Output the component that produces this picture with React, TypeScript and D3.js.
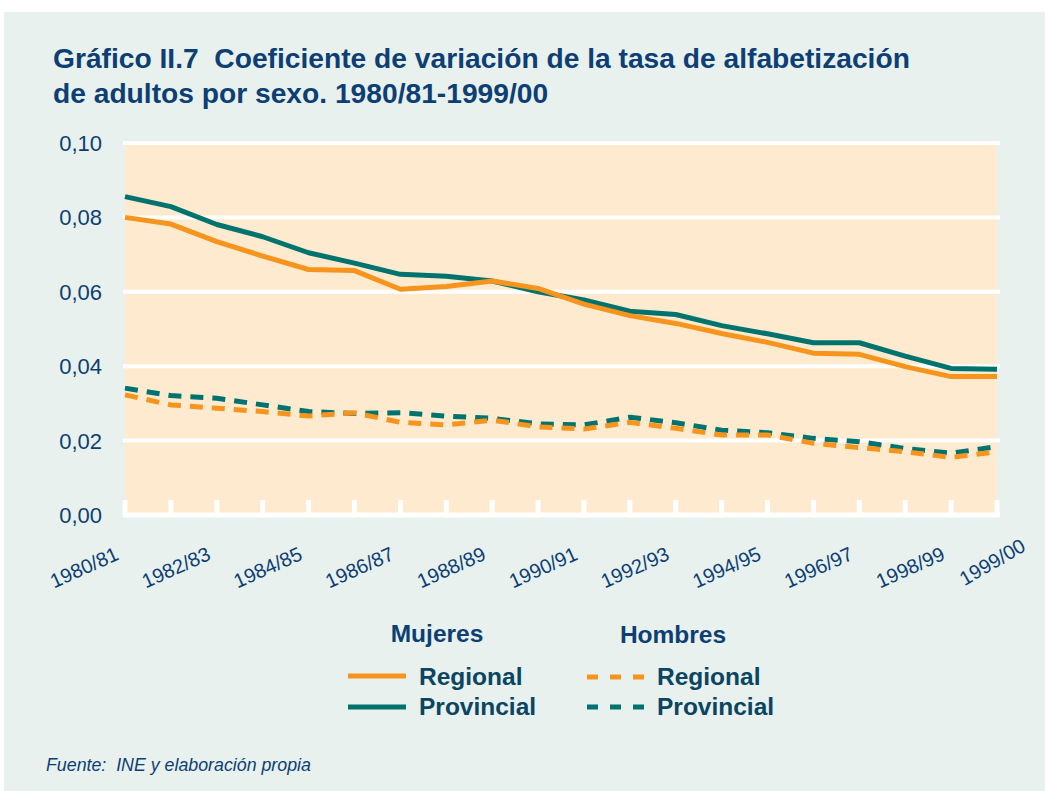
import React from "react";
import * as d3 from "d3";

const categories = [
  "1980/81","1981/82","1982/83","1983/84","1984/85","1985/86","1986/87","1987/88","1988/89","1989/90",
  "1990/91","1991/92","1992/93","1993/94","1994/95","1995/96","1996/97","1997/98","1998/99","1999/00",
];
const tickLabels = ["1980/81","1982/83","1984/85","1986/87","1988/89","1990/91","1992/93","1994/95","1996/97","1998/99","1999/00"];
const yTicks = [0, 0.02, 0.04, 0.06, 0.08, 0.1];

const mujeresRegional = [0.0800,0.0782,0.0735,0.0696,0.0660,0.0657,0.0607,0.0614,0.0629,0.0609,0.0567,0.0536,0.0515,0.0488,0.0464,0.0435,0.0432,0.0399,0.0372,0.0372];
const mujeresProvincial = [0.0856,0.0829,0.0781,0.0748,0.0705,0.0677,0.0647,0.0642,0.0629,0.0600,0.0578,0.0548,0.0539,0.0509,0.0487,0.0463,0.0463,0.0427,0.0394,0.0392];
const hombresRegional = [0.0323,0.0296,0.0287,0.0278,0.0266,0.0275,0.0249,0.0242,0.0255,0.0237,0.0231,0.0249,0.0233,0.0215,0.0215,0.0193,0.0181,0.0170,0.0155,0.0170];
const hombresProvincial = [0.0341,0.0321,0.0314,0.0296,0.0278,0.0273,0.0275,0.0266,0.0260,0.0245,0.0242,0.0263,0.0248,0.0228,0.0221,0.0206,0.0197,0.0179,0.0166,0.0184];

const ORANGE = "#F7941D";
const TEAL = "#00736F";
const NAVY = "#0D3F74";
const LEGEND_TXT = "#0B4562";
const FONT = "Liberation Sans, Arial, Helvetica, sans-serif";

export default function App() {
  const W = 1045, H = 791;
  const x = d3.scalePoint<string>().domain(categories).range([125, 997]);
  const y = d3.scaleLinear().domain([0, 0.1]).range([515, 143]);
  const line = d3.line<number>().x((_, i) => x(categories[i]) as number).y((d) => y(d));
  const fmt = (v: number) => v.toFixed(2).replace(".", ",");

  const series = [
    { data: mujeresProvincial, color: TEAL, dash: undefined },
    { data: mujeresRegional, color: ORANGE, dash: undefined },
    { data: hombresProvincial, color: TEAL, dash: "13,9" },
    { data: hombresRegional, color: ORANGE, dash: "13,9" },
  ];

  return (
    <svg width={W} height={H} style={{ position: "absolute", left: 0, top: 0 }} fontFamily={FONT}>
      <rect x={0} y={0} width={W} height={H} fill="#ffffff" />
      <rect x={4} y={12} width={W - 4} height={H - 12} fill="#E8F1EE" />
      <text x={53} y={68} fontSize={28.2} fontWeight="bold" fill={NAVY} xmlSpace="preserve">
        {"Gráfico II.7  Coeficiente de variación de la tasa de alfabetización"}
      </text>
      <text x={53} y={103} fontSize={28.2} fontWeight="bold" fill={NAVY}>
        de adultos por sexo. 1980/81-1999/00
      </text>

      <rect x={125} y={143} width={872} height={372} fill="#FEEBCF" />
      {yTicks.map((t) => (
        <g key={t}>
          {t > 0 && <line x1={123} x2={1000} y1={y(t)} y2={y(t)} stroke="#ffffff" strokeWidth={4} />}
          <text x={102} y={y(t)} dy="0.36em" textAnchor="end" fontSize={22} fill={NAVY}>
            {fmt(t)}
          </text>
        </g>
      ))}
      <line x1={123} x2={1000} y1={y(0)} y2={y(0)} stroke="#ffffff" strokeWidth={5} />
      {categories.map((c) => (
        <line key={c} x1={x(c)} x2={x(c)} y1={500} y2={515} stroke="#ffffff" strokeWidth={5} />
      ))}
      {tickLabels.map((c, i) => {
        const last = i === tickLabels.length - 1;
        const px = (x(c) as number) + (last ? 30 : -5);
        const py = last ? 550 : 559;
        return (
          <text key={c} transform={`translate(${px},${py}) rotate(${last ? -30 : -24})`} textAnchor="end" fontSize={20} fill={NAVY}>
            {c}
          </text>
        );
      })}

      {series.map((s, i) => (
        <path key={i} d={line(s.data) || ""} fill="none" stroke={s.color} strokeWidth={5} strokeDasharray={s.dash} strokeLinejoin="round" />
      ))}

      <text x={437} y={642} textAnchor="middle" fontSize={24.5} fontWeight="bold" fill={NAVY}>Mujeres</text>
      <text x={673} y={643} textAnchor="middle" fontSize={24.5} fontWeight="bold" fill={NAVY}>Hombres</text>

      <line x1={348} x2={406} y1={676} y2={676} stroke={ORANGE} strokeWidth={5} />
      <line x1={348} x2={406} y1={707} y2={707} stroke={TEAL} strokeWidth={5} />
      <text x={419} y={685} fontSize={24.5} fontWeight="bold" fill={LEGEND_TXT}>Regional</text>
      <text x={419} y={715} fontSize={24.5} fontWeight="bold" fill={LEGEND_TXT}>Provincial</text>

      <line x1={587} x2={645} y1={677} y2={677} stroke={ORANGE} strokeWidth={5} strokeDasharray="11,12" />
      <line x1={587} x2={645} y1={707} y2={707} stroke={TEAL} strokeWidth={5} strokeDasharray="11,12" />
      <text x={657} y={685} fontSize={24.5} fontWeight="bold" fill={LEGEND_TXT}>Regional</text>
      <text x={657} y={715} fontSize={24.5} fontWeight="bold" fill={LEGEND_TXT}>Provincial</text>

      <text x={46} y={771} fontSize={17.8} fontStyle="italic" fill={NAVY} xmlSpace="preserve">
        {"Fuente:  INE y elaboración propia"}
      </text>
    </svg>
  );
}
